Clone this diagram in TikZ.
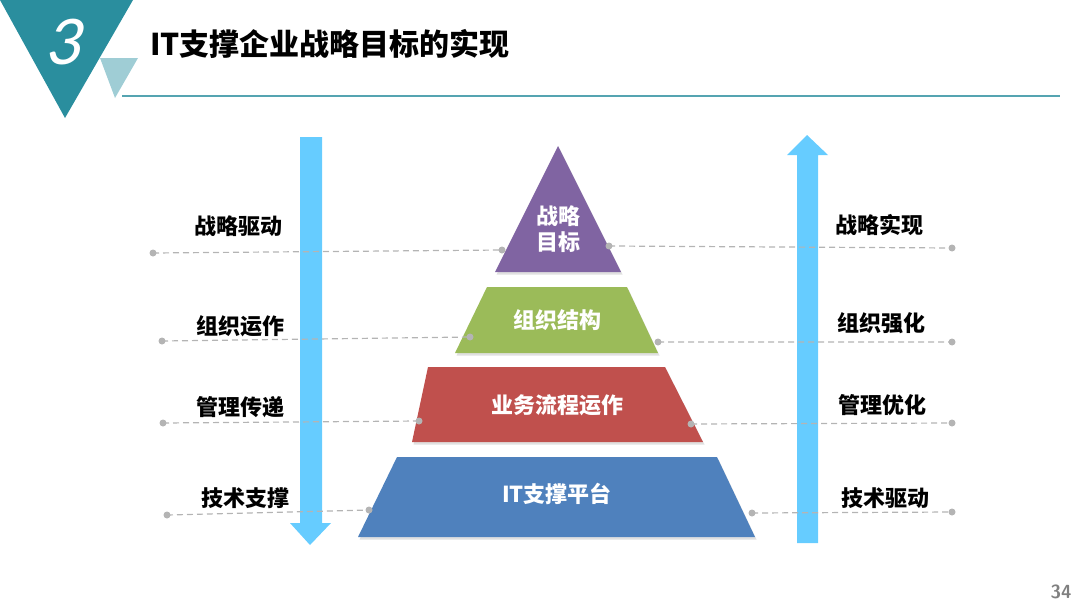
\documentclass[tikz,border=0pt]{standalone}
\usepackage{fontspec}
\newfontfamily\cjk{Noto Sans CJK SC}
\newfontfamily\numfont{Carlito}[FakeSlant=0.22]
\usepackage{tikz}
\usetikzlibrary{calc}

\definecolor{teal1}{HTML}{2A8E9E}
\definecolor{teal2}{HTML}{9FCDD5}
\definecolor{arrowblue}{HTML}{66CCFF}
\definecolor{purp}{HTML}{8064A2}
\definecolor{grn}{HTML}{9BBB59}
\definecolor{rd}{HTML}{C0504D}
\definecolor{blu}{HTML}{4F81BD}
\definecolor{dotgray}{HTML}{B4B4B4}

\tikzset{
	lvltext/.style={text=white,font=\cjk\bfseries\fontsize{11}{13}\selectfont,align=center},
	sidetext/.style={text=black,font=\cjk\bfseries\fontsize{11}{13}\selectfont},
	guide/.style={dotgray,densely dashed,line width=0.6pt},
	enddot/.style={fill=dotgray},
	shade/.style={fill=black,opacity=0.12}
}

\begin{document}
\begin{tikzpicture}[x=0.5pt,y=-0.5pt]
	
	\useasboundingbox (0,0) rectangle (1080,605);
	
	% header
	\fill[teal1] (0,0)--(133,0)--(65,118)--cycle;
	\fill[teal2] (100,58)--(138,58)--(115,98)--cycle;
	\node[text=white,font=\numfont\fontsize{35}{35}\selectfont] (num) at (62,42) {3};
	\node[anchor=west,font=\cjk\bfseries\fontsize{15}{17}\selectfont] (title) at (143,44)
		{IT支撑企业战略目标的实现};
	\coordinate (L1) at (122,96);
	\coordinate (L2) at (1060,96);
	\draw[teal1!80,line width=0.8pt] (L1)--(L2);
	
	% the two arrows
	\fill[arrowblue] (300,137)--(322,137)--(322,523)--(331,523)--(310,545)
		--(290,523)--(300,523)--cycle;
	\fill[arrowblue] (797,543)--(818,543)--(818,155)--(828,155)--(807,135)
		--(787,155)--(797,155)--cycle;
	
	% pyramid, with a faint shadow
	\begin{scope}[shift={(1.5,2.5)}]
		\fill[shade] (558,146)--(621,272)--(495,272)--cycle;
		\fill[shade] (487,287)--(627,287)--(658,353)--(455,353)--cycle;
		\fill[shade] (428,367)--(665,367)--(703,442)--(412,442)--cycle;
		\fill[shade] (397,457)--(717,457)--(755,537)--(358,537)--cycle;
	\end{scope}
	\fill[purp] (558,146)--(621,272)--(495,272)--cycle;
	\fill[grn]  (487,287)--(627,287)--(658,353)--(455,353)--cycle;
	\fill[rd]   (428,367)--(665,367)--(703,442)--(412,442)--cycle;
	\fill[blu]  (397,457)--(717,457)--(755,537)--(358,537)--cycle;
	
	\node[lvltext] (K1) at (558,229) {战略\\目标};
	\node[lvltext] (K2) at (557,320) {组织结构};
	\node[lvltext] (K3) at (557,405) {业务流程运作};
	\node[lvltext] (K4) at (557,494) {IT支撑平台};
	
	% guide lines, left and right of each level
	\coordinate (a1) at (153,253); \coordinate (b1) at (502,250);
	\coordinate (c1) at (609,246); \coordinate (d1) at (952,248);
	\coordinate (a2) at (162,341); \coordinate (b2) at (470,337);
	\coordinate (c2) at (658,342); \coordinate (d2) at (952,342);
	\coordinate (a3) at (163,423); \coordinate (b3) at (419,421);
	\coordinate (c3) at (691,424); \coordinate (d3) at (952,423);
	\coordinate (a4) at (167,515); \coordinate (b4) at (369,510);
	\coordinate (c4) at (752,513); \coordinate (d4) at (952,512);
	
	\foreach \i in {1,2,3,4}{
		\draw[guide] (a\i)--(b\i) (c\i)--(d\i);
		\fill[enddot] (a\i) circle (3.5) (b\i) circle (3.5)
			(c\i) circle (3.5) (d\i) circle (3.5);
	}
	
	% side labels
	\node[sidetext] (S1) at (238,226) {战略驱动};
	\node[sidetext] (S2) at (240,326) {组织运作};
	\node[sidetext] (S3) at (240,407) {管理传递};
	\node[sidetext] (S4) at (245,498) {技术支撑};
	\node[sidetext] (R1) at (879,225) {战略实现};
	\node[sidetext] (R2) at (881,323) {组织强化};
	\node[sidetext] (R3) at (882,405) {管理优化};
	\node[sidetext] (R4) at (885,498) {技术驱动};
	
	\node[text=gray,font=\sffamily\bfseries\fontsize{9.5}{9.5}\selectfont] (page) at (1061,592) {34};
	
\end{tikzpicture}
\end{document}
